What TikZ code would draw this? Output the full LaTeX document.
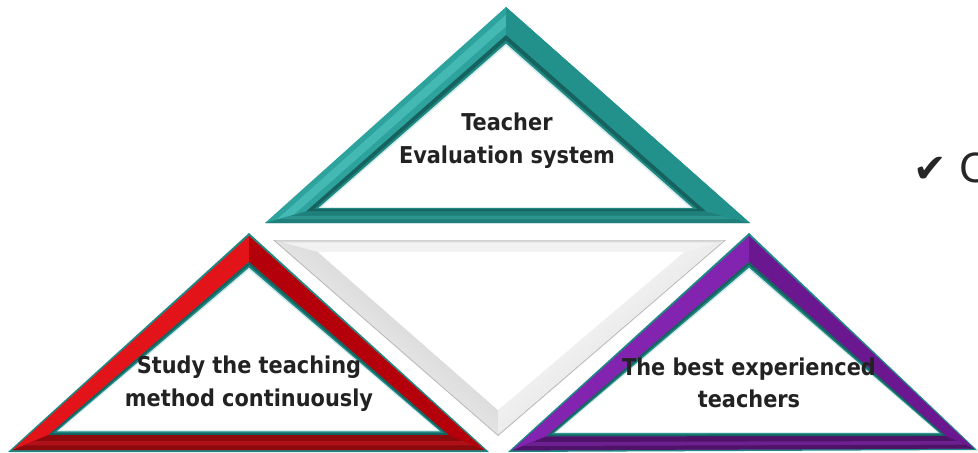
\documentclass[tikz,border=0pt]{standalone}
\usepackage{fontspec}
\usetikzlibrary{calc}
\newfontfamily\labfont{DejaVu Sans Condensed Bold}
\newfontfamily\symfont{DejaVu Sans}
\definecolor{tealL}{HTML}{2EA39E}
\definecolor{tealHi}{HTML}{44B9B3}
\definecolor{tealR}{HTML}{22908B}
\definecolor{tealB}{HTML}{1F7F7B}
\definecolor{tealB2}{HTML}{2B948F}
\definecolor{tealD}{HTML}{15625F}
\definecolor{tealE}{HTML}{1E8883}
\definecolor{pale}{HTML}{D6ECEC}
\definecolor{redL}{HTML}{E2141A}
\definecolor{redR}{HTML}{B4000A}
\definecolor{redB}{HTML}{8C0A0E}
\definecolor{redB2}{HTML}{B01018}
\definecolor{purL}{HTML}{8224B0}
\definecolor{purR}{HTML}{6A1790}
\definecolor{purB}{HTML}{4E1268}
\definecolor{purB2}{HTML}{6E2090}
\definecolor{txt}{HTML}{222222}
\newcommand\tri[3]{\fill[#3] ($(#1A)!#2!(#1a)$) -- ($(#1L)!#2!(#1l)$) -- ($(#1R)!#2!(#1r)$) -- cycle;}
\newcommand\rside[4]{\fill[#4] ($(#1A)!#2!(#1a)$) -- ($(#1R)!#2!(#1r)$) -- ($(#1R)!#3!(#1r)$) -- ($(#1A)!#3!(#1a)$) -- cycle;}
\newcommand\lside[4]{\fill[#4] ($(#1A)!#2!(#1a)$) -- ($(#1L)!#2!(#1l)$) -- ($(#1L)!#3!(#1l)$) -- ($(#1A)!#3!(#1a)$) -- cycle;}
\newcommand\bside[4]{\fill[#4] ($(#1L)!#2!(#1l)$) -- ($(#1R)!#2!(#1r)$) -- ($(#1R)!#3!(#1r)$) -- ($(#1L)!#3!(#1l)$) -- cycle;}
\tikzset{
  lab/.style={align=center, text=txt, font=\labfont\fontsize{17.4}{24.5}\selectfont, inner sep=0pt},
}
\begin{document}
\begin{tikzpicture}[x=0.75pt,y=-0.75pt]
\useasboundingbox (0,0) rectangle (978,453);
\clip (0,0) rectangle (978,453);
\fill[white] (0,0) rectangle (978,453);

% ---------- top teal triangle ----------
\coordinate (tA) at (506,7);   \coordinate (tL) at (265,223); \coordinate (tR) at (750,223);
\coordinate (ta) at (506,46);  \coordinate (tl) at (322,207); \coordinate (tr) at (689,207);
\tri{t}{0}{tealL}
\lside{t}{0.2}{0.5}{tealHi}
\rside{t}{0}{0.72}{tealR}
\bside{t}{0}{0.72}{tealB}
\bside{t}{0.25}{0.45}{tealB2}
\tri{t}{0.72}{tealD}
\tri{t}{0.86}{tealE}
\tri{t}{0.94}{pale}
\tri{t}{1}{white}

% ---------- middle inverted triangle ----------
\coordinate (mL) at (273,240); \coordinate (mR) at (726,240); \coordinate (mB) at (498,436);
\coordinate (ml) at (318,252); \coordinate (mr) at (684,252); \coordinate (mb) at (498,410);
\fill[gray!55] (mL) -- (mR) -- (mB) -- cycle;
\fill[gray!10] ($(mL)!0.06!(ml)$) -- ($(mR)!0.06!(mr)$) -- ($(mB)!0.06!(mb)$) -- cycle;
\shade[left color=gray!45, right color=white, shading angle=-41]
  ($(mL)!0.06!(ml)$) -- (ml) -- (mb) -- ($(mB)!0.06!(mb)$) -- cycle;
\shade[left color=white, right color=gray!30, shading angle=41]
  ($(mR)!0.06!(mr)$) -- (mr) -- (mb) -- ($(mB)!0.06!(mb)$) -- cycle;
\fill[gray!30] ($(mL)!0.06!(ml)$) -- ($(mR)!0.06!(mr)$) -- ($(mR)!0.2!(mr)$) -- ($(mL)!0.2!(ml)$) -- cycle;
\fill[white] (ml) -- (mr) -- (mb) -- cycle;

% ---------- bottom-left red triangle ----------
\coordinate (blA) at (249,233); \coordinate (blL) at (8,452);  \coordinate (blR) at (489,452);
\coordinate (bla) at (249,270); \coordinate (bll) at (60,430); \coordinate (blr) at (437,430);
\tri{bl}{0}{tealE}
\tri{bl}{0.08}{redL}
\rside{bl}{0.08}{0.78}{redR}
\bside{bl}{0.08}{0.78}{redB}
\bside{bl}{0.3}{0.5}{redB2}
\tri{bl}{0.78}{tealD}
\tri{bl}{0.87}{tealE}
\tri{bl}{0.94}{pale}
\tri{bl}{1}{white}

% ---------- bottom-right purple triangle ----------
\coordinate (brA) at (749,233); \coordinate (brL) at (508,452); \coordinate (brR) at (977,450);
\coordinate (bra) at (749,270); \coordinate (brl) at (557,432); \coordinate (brr) at (937,432);
\tri{br}{0}{tealE}
\tri{br}{0.08}{purL}
\rside{br}{0.08}{0.78}{purR}
\bside{br}{0.08}{0.78}{purB}
\bside{br}{0.3}{0.5}{purB2}
\tri{br}{0.78}{tealD}
\tri{br}{0.87}{tealE}
\tri{br}{0.94}{pale}
\tri{br}{1}{white}

% ---------- labels ----------
\node[lab] (ttop) at (507,141) {Teacher\\Evaluation system};
\node[lab] (tleft) at (249,384) {Study the teaching\\method continuously};
\node[lab] (tright) at (749,383) {The best experienced\\teachers};
\node[anchor=base west, inner sep=0pt, text=black!85, font=\symfont\fontsize{30}{30}\selectfont] (chk) at (913,182) {✔ C};
\end{tikzpicture}
\end{document}
